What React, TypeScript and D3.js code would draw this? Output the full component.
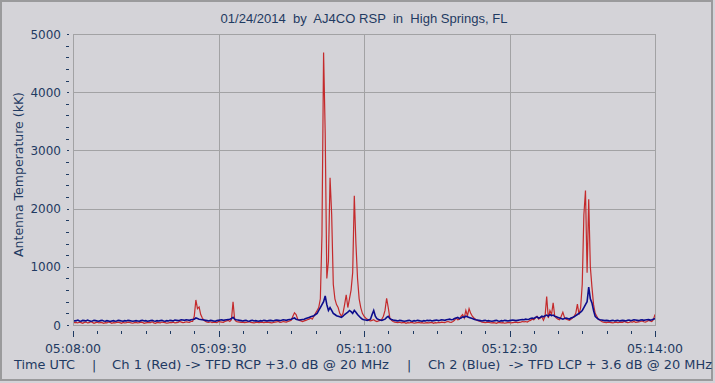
import React from "react";
import * as d3 from "d3";

// Seconds after 05:08:00 UTC, one sample per second (0..360)
const red: number[] = [
  50,40,45,35,50,40,30,45,50,35,40,55,45,30,40,50,35,45,40,30,
  40,35,50,45,30,40,35,45,50,40,30,45,35,40,50,45,35,30,40,45,
  35,40,50,45,30,35,40,45,40,55,35,30,45,40,35,50,45,40,30,35,
  45,40,50,35,40,45,60,50,40,45,55,50,45,60,60,150,430,280,310,180,
  120,80,60,50,45,55,40,50,45,40,60,55,50,45,60,70,80,60,90,400,
  90,60,55,50,45,50,40,45,50,55,45,40,35,45,50,40,45,50,40,45,
  50,45,40,35,45,50,55,60,45,50,60,55,50,60,70,80,150,210,180,100,
  80,70,60,70,80,90,100,120,100,150,200,250,300,450,1550,4680,3300,800,1100,2530,
  1900,700,450,350,300,200,150,200,350,520,300,450,600,900,2220,1400,800,450,300,200,
  150,120,100,80,70,80,90,70,60,70,80,100,150,250,460,300,120,80,60,50,
  45,40,50,35,40,45,30,40,35,45,40,30,35,40,45,35,40,30,35,40,
  35,40,45,30,40,35,45,40,50,45,40,55,60,50,45,60,80,120,90,100,
  150,180,120,250,160,280,200,150,120,100,80,70,60,50,45,40,45,50,40,35,
  40,35,30,45,40,35,40,30,35,40,45,35,40,45,50,40,45,50,60,55,
  60,50,70,80,100,90,120,150,100,120,140,80,150,490,120,250,180,380,150,120,
  100,90,150,220,130,100,90,80,100,120,150,200,360,180,300,700,1890,2310,900,2160,
  1000,650,350,200,150,100,80,60,50,45,40,50,45,40,35,45,50,40,45,50,
  45,60,50,40,45,55,50,60,45,50,55,60,70,55,50,60,80,70,60,90,180,
];

const blue: number[] = [
  80,70,75,85,70,65,80,75,70,85,75,65,70,80,75,70,65,75,80,70,
  65,75,70,60,70,75,65,70,80,75,70,65,75,70,80,75,70,65,70,75,
  70,65,75,80,70,75,65,70,75,80,70,65,75,70,75,80,70,65,75,70,
  80,75,70,85,80,75,80,90,85,80,90,85,80,90,95,100,120,110,100,95,
  90,85,80,75,70,80,75,70,65,75,80,85,90,80,85,90,95,100,110,130,
  100,90,85,80,75,70,75,80,70,65,75,80,70,75,70,65,75,70,80,75,
  70,75,80,75,70,80,85,80,75,80,90,85,80,90,95,100,110,120,100,90,
  85,90,95,100,110,120,130,140,150,160,180,200,250,300,350,400,500,350,250,300,
  250,200,180,160,150,140,130,150,180,200,220,250,230,200,250,220,180,150,120,100,
  90,85,80,90,100,180,250,150,110,95,85,80,90,100,130,150,110,95,85,80,
  75,70,80,75,70,65,70,75,80,70,65,75,70,80,75,70,65,75,70,80,
  75,80,70,75,80,85,75,80,90,85,80,90,95,100,90,95,110,120,130,110,
  120,140,130,150,140,130,120,110,100,90,85,80,75,70,75,80,70,75,70,65,
  70,75,80,70,65,75,70,80,75,70,75,80,85,80,75,80,85,90,95,90,
  100,95,100,110,120,110,130,140,120,130,150,140,160,170,150,180,160,170,150,140,
  130,120,110,100,110,120,110,100,120,130,140,160,180,200,220,250,300,350,400,650,
  450,380,250,150,120,100,90,85,80,75,80,75,70,75,80,70,75,80,70,75,
  80,75,70,80,85,75,80,90,85,80,75,85,90,80,85,90,95,85,90,100,110,
];

const xTickSeconds = [0, 90, 180, 270, 360];
const xTickLabels = ["05:08:00", "05:09:30", "05:11:00", "05:12:30", "05:14:00"];
const yTicks = [0, 1000, 2000, 3000, 4000, 5000];

const title = "01/24/2014  by  AJ4CO RSP  in  High Springs, FL";
const yLabel = "Antenna Temperature (kK)";
const footer = [
  { text: "Time UTC", x: 14, len: 61 },
  { text: "|", x: 92, len: 0 },
  { text: "Ch 1 (Red) -> TFD RCP +3.0 dB @ 20 MHz", x: 112, len: 277 },
  { text: "|", x: 407, len: 0 },
  { text: "Ch 2 (Blue)  -> TFD LCP + 3.6 dB @ 20 MHz", x: 428, len: 284 },
];

const W = 715, H = 383;
const L = 73, R = 655, T = 34, B = 325;
const BG = "#d4d3d8";
const TXT = "#1f3a62";
const GRID = "#a2a2a4";
const FONT = "'DejaVu Sans', Verdana, sans-serif";

export default function App() {
  const x = d3.scaleLinear().domain([0, 360]).range([L, R]);
  const y = d3.scaleLinear().domain([0, 5000]).range([B, T]);
  const line = d3.line<number>().x((_, i) => x(i)).y((d) => y(d));
  const minorX = d3.range(0, 361, 15);
  const minorY = d3.range(0, 5001, 200);

  React.useEffect(() => {
    document.body.style.margin = "0";
  }, []);

  return (
    <svg width={W} height={H} style={{ position: "absolute", left: 0, top: 0, display: "block" }}>
      <rect x={0} y={0} width={W} height={H} fill={BG} />
      <rect x={1} y={1} width={711} height={379} fill="none" stroke="#9a9a9c" strokeWidth={2} />
      <defs>
        <clipPath id="plot">
          <rect x={L} y={T} width={R - L} height={B - T} />
        </clipPath>
      </defs>
      {/* grid */}
      {yTicks.slice(1, -1).map((v) => (
        <line key={"gy" + v} x1={L} x2={R} y1={Math.round(y(v)) + 0.5} y2={Math.round(y(v)) + 0.5} stroke={GRID} />
      ))}
      {xTickSeconds.slice(1, -1).map((s) => (
        <line key={"gx" + s} x1={Math.round(x(s)) + 0.5} x2={Math.round(x(s)) + 0.5} y1={T} y2={B} stroke={GRID} />
      ))}
      <g clipPath="url(#plot)">
        <path d={line(red) || ""} fill="none" stroke="#c42a2c" strokeWidth={1.2} />
        <path d={line(blue) || ""} fill="none" stroke="#0c0c8c" strokeWidth={1.6} />
      </g>
      <rect x={L + 0.5} y={T + 0.5} width={R - L} height={B - T} fill="none" stroke={GRID} />
      {/* y ticks */}
      {minorY.map((v) => (
        <line key={"ty" + v} x1={v % 1000 === 0 ? 67 : 66} x2={69} y1={Math.round(y(v)) + 0.5} y2={Math.round(y(v)) + 0.5} stroke={TXT} />
      ))}
      {yTicks.map((v) => (
        <text key={"ly" + v} x={61} y={y(v) + 4.5} textAnchor="end" fontFamily={FONT} fontSize={12} fill={TXT}>
          {v}
        </text>
      ))}
      {/* x ticks */}
      {minorX.map((s) => (
        <line key={"tx" + s} x1={Math.round(x(s)) + 0.5} x2={Math.round(x(s)) + 0.5} y1={331} y2={s % 90 === 0 ? 337 : 334} stroke={TXT} />
      ))}
      {xTickSeconds.map((s, i) => (
        <text key={"lx" + s} x={x(s)} y={353} textAnchor="middle" fontFamily={FONT} fontSize={12.5} fill={TXT}>
          {xTickLabels[i]}
        </text>
      ))}
      <text x={(L + R) / 2} y={23} textAnchor="middle" fontFamily="'Liberation Sans', Arial, sans-serif" fontSize={12.5} fill={TXT} textLength={287} lengthAdjust="spacingAndGlyphs" style={{ whiteSpace: "pre" }}>
        {title}
      </text>
      <text transform={`translate(23,${(T + B) / 2 - 5}) rotate(-90)`} textAnchor="middle" fontFamily={FONT} fontSize={12.5} fill={TXT} textLength={165} lengthAdjust="spacingAndGlyphs">
        {yLabel}
      </text>
      {footer.map((f, i) => (
        <text key={"f" + i} x={f.x} y={369} fontFamily={FONT} fontSize={12.7} fill={TXT} style={{ whiteSpace: "pre" }}
          {...(f.len ? { textLength: f.len, lengthAdjust: "spacingAndGlyphs" } : {})}>
          {f.text}
        </text>
      ))}
    </svg>
  );
}
